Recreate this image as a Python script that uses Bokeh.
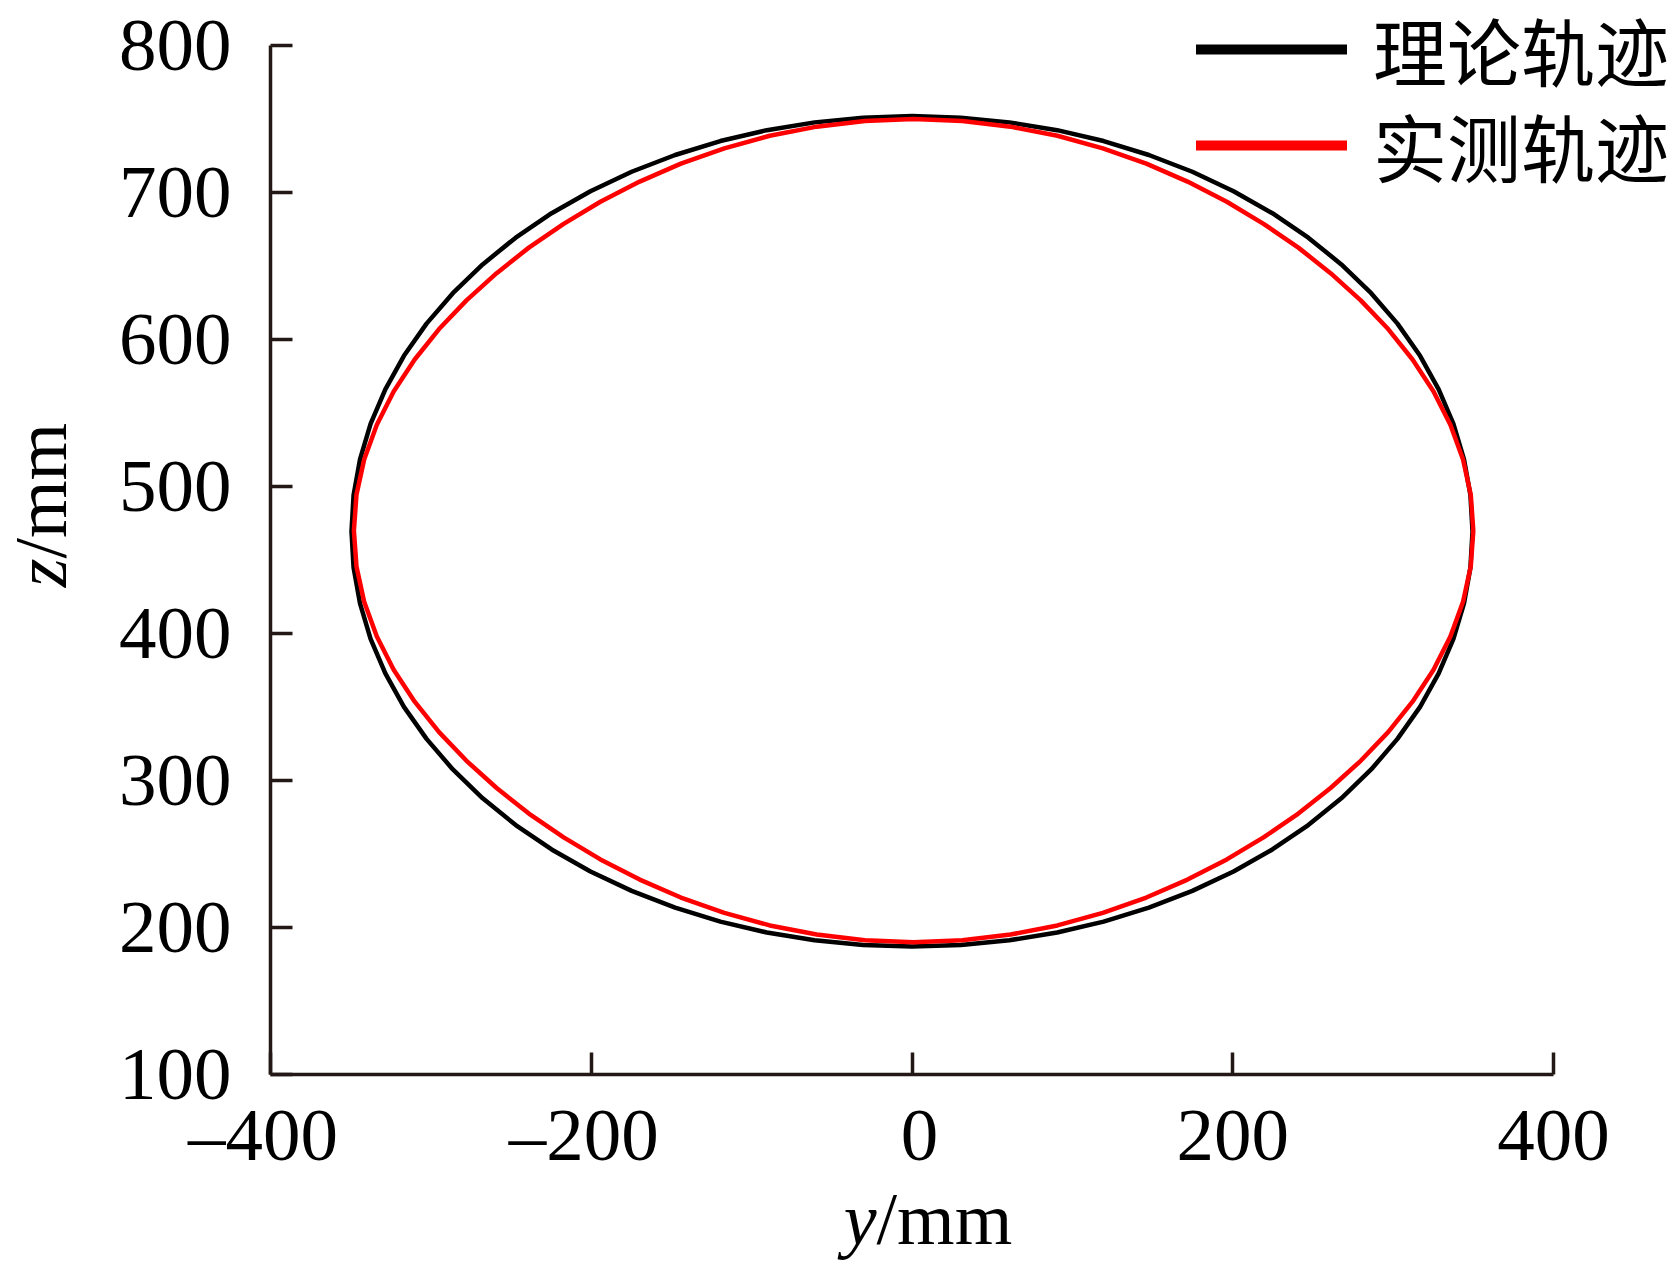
import math
from bokeh.plotting import figure
from bokeh.models import Range1d, FixedTicker, Label, Legend, LegendItem
from bokeh.embed import file_html
from bokeh.resources import INLINE

# ---- data (y / mm, z / mm) ----
theory_y = [349.5, 348.2, 344.2, 337.6, 328.4, 316.8, 302.7, 286.3, 267.7, 247.1, 224.7, 200.5,
            174.8, 147.7, 119.5, 90.5, 60.7, 30.5, 0.0, -30.5, -60.7, -90.5, -119.5, -147.7,
            -174.8, -200.5, -224.7, -247.1, -267.7, -286.3, -302.7, -316.8, -328.4, -337.6, -344.2, -348.2,
            -349.5, -348.2, -344.2, -337.6, -328.4, -316.8, -302.7, -286.3, -267.7, -247.1, -224.7, -200.5,
            -174.8, -147.7, -119.5, -90.5, -60.7, -30.5, 0.0, 30.5, 60.7, 90.5, 119.5, 147.7,
            174.8, 200.5, 224.7, 247.1, 267.7, 286.3, 302.7, 316.8, 328.4, 337.6, 344.2, 348.2, 349.5]
theory_z = [469.5, 494.1, 518.5, 542.6, 566.1, 588.9, 610.8, 631.5, 651.1, 669.3, 685.9, 700.9,
            714.1, 725.5, 735.0, 742.4, 747.7, 750.9, 752.0, 750.9, 747.7, 742.4, 735.0, 725.5,
            714.1, 700.9, 685.9, 669.3, 651.1, 631.5, 610.8, 588.9, 566.1, 542.6, 518.5, 494.1,
            469.5, 444.9, 420.5, 396.4, 372.9, 350.1, 328.3, 307.5, 287.9, 269.7, 253.1, 238.1,
            224.9, 213.5, 204.0, 196.6, 191.3, 188.1, 187.0, 188.1, 191.3, 196.6, 204.0, 213.5,
            224.9, 238.1, 253.1, 269.7, 287.9, 307.5, 328.3, 350.1, 372.9, 396.4, 420.5, 444.9, 469.5]

measured_y = [350.0, 348.4, 343.6, 335.7, 325.2, 312.1, 296.9, 279.8, 261.0, 240.9, 219.2, 196.3,
              171.8, 146.1, 119.0, 90.7, 61.4, 31.4, 1.0, -29.4, -59.4, -88.7, -117.0, -144.1,
              -169.8, -194.3, -217.2, -238.9, -259.0, -277.8, -294.9, -310.1, -323.2, -333.7, -341.6, -346.4,
              -348.0, -346.4, -341.6, -333.7, -323.2, -310.1, -294.9, -277.8, -259.0, -238.9, -217.2, -194.3,
              -169.8, -144.1, -117.0, -88.7, -59.4, -29.4, 1.0, 31.4, 61.4, 90.7, 119.0, 146.1,
              171.8, 196.3, 219.2, 240.9, 261.0, 279.8, 296.9, 312.1, 325.2, 335.7, 343.6, 348.4, 350.0]
measured_z = [470.0, 494.4, 518.4, 542.0, 564.7, 586.4, 607.1, 626.6, 645.1, 662.5, 678.7, 693.7,
              707.4, 719.6, 730.0, 738.6, 744.8, 748.7, 750.0, 748.7, 744.8, 738.6, 730.0, 719.6,
              707.4, 693.7, 678.7, 662.5, 645.1, 626.6, 607.1, 586.4, 564.7, 542.0, 518.4, 494.4,
              470.0, 445.6, 421.6, 398.0, 375.3, 353.6, 332.9, 313.4, 294.9, 277.5, 261.3, 246.3,
              232.6, 220.4, 210.0, 201.4, 195.2, 191.3, 190.0, 191.3, 195.2, 201.4, 210.0, 220.4,
              232.6, 246.3, 261.3, 277.5, 294.9, 313.4, 332.9, 353.6, 375.3, 398.0, 421.6, 445.6, 470.0]

x_ticks = [-400, -200, 0, 200, 400]
y_ticks = [100, 200, 300, 400, 500, 600, 700, 800]
x_tick_labels = {-400: "\u2013400\u2009", -200: "\u2013200\u2009", 0: "\u20090", 200: "200", 400: "400"}
x_bounds = (-400, 400)
y_bounds = (100, 800)
series_names = ["理论轨迹", "实测轨迹"]

AXIS_COLOR = "#231815"
SERIF = "Liberation Serif"

# frame covers the whole canvas; axes sit at fixed data positions
p = figure(width=1672, height=1265, output_backend="svg", toolbar_location=None,
           x_range=Range1d(-568.36, 474.20), y_range=Range1d(-29.93, 830.61),
           min_border_left=0, min_border_right=0, min_border_top=0, min_border_bottom=0)
p.background_fill_color = "white"
p.border_fill_color = "white"
p.outline_line_color = None
p.grid.visible = False

for ax in (p.xaxis[0], p.yaxis[0]):
    ax.axis_line_color = AXIS_COLOR
    ax.axis_line_width = 3.5
    ax.major_tick_line_color = AXIS_COLOR
    ax.major_tick_line_width = 3.5
    ax.major_tick_in = 22
    ax.major_tick_out = 0
    ax.minor_tick_line_color = None
    ax.major_label_text_font = SERIF
    ax.major_label_text_font_size = "75px"
    ax.major_label_text_color = "black"

p.xaxis[0].ticker = FixedTicker(ticks=x_ticks)
p.xaxis[0].major_label_overrides = x_tick_labels
p.xaxis[0].major_label_standoff = 18
p.xaxis[0].fixed_location = y_bounds[0]
p.xaxis[0].bounds = x_bounds
p.yaxis[0].ticker = FixedTicker(ticks=y_ticks)
p.yaxis[0].major_label_standoff = 39
p.yaxis[0].fixed_location = x_bounds[0]
p.yaxis[0].bounds = y_bounds

p.line(theory_y, theory_z, line_color="black", line_width=4.5)
p.line(measured_y, measured_z, line_color="#ff0000", line_width=4.5)

# legend swatches: hidden copies of the series drawn with a thick line
lb = p.line(theory_y, theory_z, line_color="black", line_width=10, line_cap="round", visible=False)
lr = p.line(measured_y, measured_z, line_color="#ff0000", line_width=10, line_cap="round", visible=False)

legend_style = dict(glyph_width=151, glyph_height=106, label_height=106,
                    label_standoff=26, spacing=0, padding=0, margin=0,
                    border_line_color=None, background_fill_alpha=0,
                    inactive_fill_alpha=0, click_policy="none",
                    label_text_font="Liberation Serif, Noto Sans CJK SC", label_text_font_size="74px",
                    label_text_color="black")
for item_label, rend, loc in ((series_names[0], lb, (1196, 1163)),
                              (series_names[1], lr, (1196, 1067))):
    p.add_layout(Legend(items=[LegendItem(label=item_label, renderers=[rend])],
                        location=loc, **legend_style))

# axis titles (italic variable + upright unit)
fs = "74px"
p.add_layout(Label(x=-22.1, y=2.0, text="y", text_align="right", text_baseline="alphabetic",
                   text_font=SERIF, text_font_size=fs, text_font_style="italic", text_color="black"))
p.add_layout(Label(x=-22.1, y=2.0, text="/mm", text_align="left", text_baseline="alphabetic",
                   text_font=SERIF, text_font_size=fs, text_color="black"))
p.add_layout(Label(x=-543.4, y=451, text="z", text_align="right", text_baseline="alphabetic",
                   angle=math.pi / 2, text_font=SERIF, text_font_size=fs, text_font_style="italic",
                   text_color="black"))
p.add_layout(Label(x=-543.4, y=451, text="/mm", text_align="left", text_baseline="alphabetic",
                   angle=math.pi / 2, text_font=SERIF, text_font_size=fs, text_color="black"))

open("out.html", "w").write(file_html(p, INLINE))
